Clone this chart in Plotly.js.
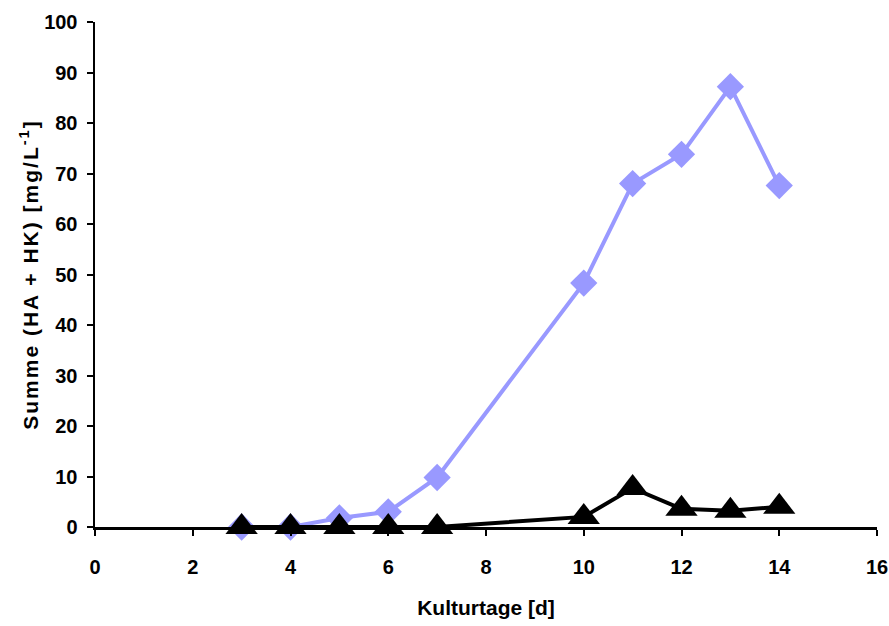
<!DOCTYPE html>
<html>
<head>
<meta charset="utf-8">
<script src="https://cdn.plot.ly/plotly-3.0.1.min.js"></script>
<style>
html,body{margin:0;padding:0;background:#fff;}
#chart{width:889px;height:626px;}
#chart .ytitle{letter-spacing:2px;}
</style>
</head>
<body>
<div id="chart"></div>
<script>
const days = [3, 4, 5, 6, 7, 10, 11, 12, 13, 14];
const seriesBlue = [0, 0, 1.8, 3.0, 9.8, 48.3, 68.0, 73.8, 87.2, 67.6];
const seriesBlack = [0, 0, 0, 0, 0, 2.0, 7.7, 3.6, 3.2, 4.0];
const xTicks = [0, 2, 4, 6, 8, 10, 12, 14, 16];
const yTicks = [0, 10, 20, 30, 40, 50, 60, 70, 80, 90, 100];
const xTitle = 'Kulturtage [d]';
const yTitle = 'Summe (HA + HK) [mg/L<sup>-1</sup>]';

const font = {family: '"Liberation Sans", Arial, sans-serif', color: '#000'};

const data = [
  {x: days, y: seriesBlue, type: 'scatter', mode: 'lines+markers',
   line: {color: '#9999FF', width: 4},
   marker: {symbol: 'diamond', size: 21, color: '#9999FF'},
   cliponaxis: false, showlegend: false},
  {x: days, y: seriesBlack, type: 'scatter', mode: 'lines+markers',
   line: {color: '#000000', width: 4},
   marker: {symbol: 'triangle-up', size: 28, color: '#000000'},
   cliponaxis: false, showlegend: false}
];

const layout = {
  width: 889, height: 626,
  margin: {l: 95, r: 12, t: 22, b: 99},
  paper_bgcolor: '#fff', plot_bgcolor: '#fff',
  font: font,
  xaxis: {
    range: [0, 16], tickvals: xTicks, ticktext: xTicks.map(String),
    showgrid: false, zeroline: false, showline: true, linecolor: '#000', linewidth: 2.5,
    ticks: 'outside', ticklen: 6, tickwidth: 2, tickcolor: '#000', ticklabelstandoff: 14,
    tickfont: {family: font.family, size: 20, color: '#000', weight: 'bold'},
    title: {text: '<b>' + xTitle + '</b>', font: {family: font.family, size: 21, color: '#000'}, standoff: 24}
  },
  yaxis: {
    range: [0, 100], tickvals: yTicks, ticktext: yTicks.map(String),
    showgrid: false, zeroline: false, showline: true, linecolor: '#000', linewidth: 2.5,
    ticks: 'outside', ticklen: 6, tickwidth: 2, tickcolor: '#000', ticklabelstandoff: 5,
    tickfont: {family: font.family, size: 20, color: '#000', weight: 'bold'},
    title: {text: '<b>' + yTitle + '</b>', font: {family: font.family, size: 21, color: '#000'}, standoff: 0}
  }
};

Plotly.newPlot('chart', data, layout, {displayModeBar: false, staticPlot: true});
</script>
</body>
</html>
